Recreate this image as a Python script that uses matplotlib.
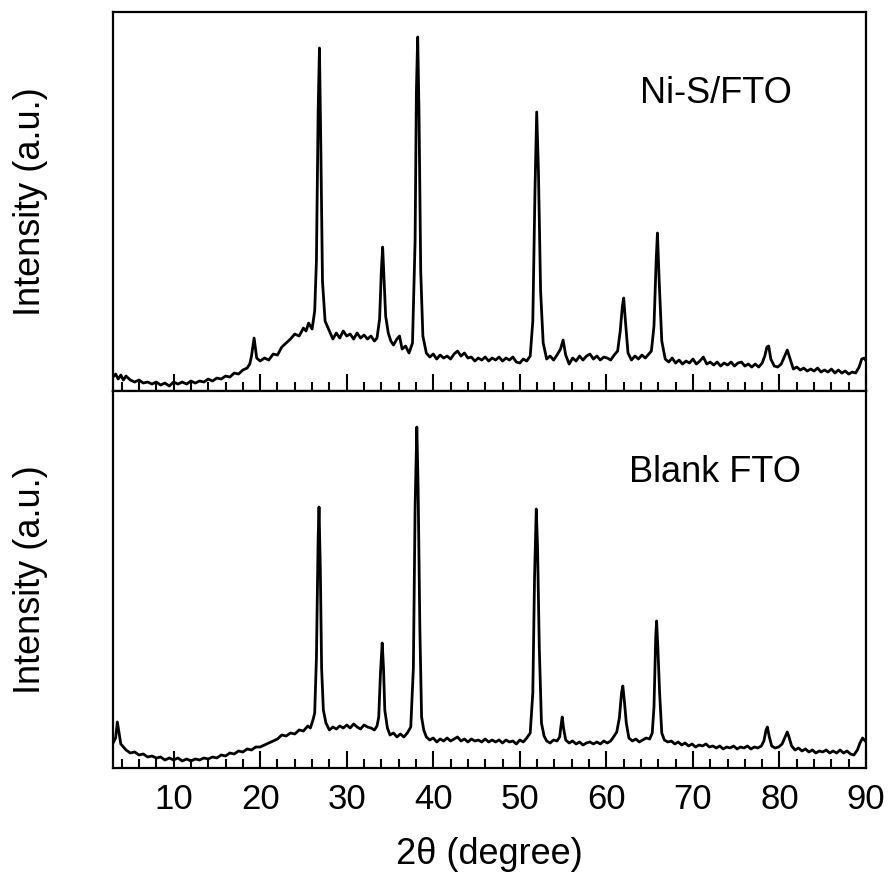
import numpy as np
import matplotlib
matplotlib.use('Agg')
import matplotlib.pyplot as plt

plt.rcParams['font.family'] = ['Liberation Sans', 'DejaVu Sans']

# (2theta, intensity), arbitrary units
nis_fto = [
    (3.0, 14), (3.3, 17), (3.6, 12), (3.9, 16), (4.2, 11), (4.5, 15), (5.0, 11), (5.5, 9), (6.0, 11), (6.5, 8),
    (7.0, 9), (7.5, 7), (8.0, 9), (8.5, 6), (9.0, 8), (9.5, 5), (10.0, 9), (10.5, 7), (11.0, 9), (11.5, 7),
    (12.0, 10), (12.5, 8), (13.0, 10), (13.5, 9), (14.0, 12), (14.5, 10), (15.0, 13), (15.5, 12), (16.0, 15), (16.5, 14),
    (17.0, 18), (17.5, 17), (18.0, 21), (18.5, 23), (18.8, 27), (19.0, 35), (19.3, 53), (19.6, 33), (20.0, 30), (20.5, 33),
    (21.0, 31), (21.5, 37), (22.0, 36), (22.5, 44), (23.0, 48), (23.5, 52), (24.0, 57), (24.5, 55), (25.0, 63), (25.3, 60),
    (25.6, 68), (26.0, 62), (26.3, 80), (26.5, 130), (26.7, 280), (26.85, 343), (27.0, 250), (27.2, 110), (27.5, 70), (28.0, 60),
    (28.4, 52), (28.8, 58), (29.2, 53), (29.6, 60), (30.0, 55), (30.4, 57), (30.8, 52), (31.2, 58), (31.6, 53), (32.0, 56),
    (32.4, 52), (32.8, 55), (33.2, 50), (33.5, 53), (33.8, 72), (34.0, 120), (34.15, 144), (34.3, 115), (34.5, 75), (34.8, 58),
    (35.1, 50), (35.4, 46), (35.8, 52), (36.1, 55), (36.4, 42), (36.8, 45), (37.2, 38), (37.6, 48), (37.9, 150), (38.05, 300),
    (38.2, 354), (38.35, 280), (38.55, 120), (38.8, 55), (39.2, 38), (39.6, 34), (40.0, 37), (40.4, 32), (40.8, 36), (41.2, 33),
    (41.6, 35), (42.0, 32), (42.4, 37), (42.8, 40), (43.2, 35), (43.6, 38), (44.0, 33), (44.4, 34), (44.8, 30), (45.2, 33),
    (45.6, 31), (46.0, 34), (46.4, 30), (46.8, 33), (47.2, 31), (47.6, 34), (48.0, 30), (48.4, 33), (48.8, 31), (49.2, 34),
    (49.6, 29), (50.0, 28), (50.4, 32), (50.8, 30), (51.2, 35), (51.5, 70), (51.75, 200), (51.95, 279), (52.15, 220), (52.4, 100),
    (52.7, 48), (53.1, 32), (53.5, 35), (53.9, 31), (54.3, 36), (54.7, 42), (55.0, 51), (55.3, 36), (55.7, 27), (56.1, 33),
    (56.5, 30), (56.9, 35), (57.3, 31), (57.7, 35), (58.1, 37), (58.5, 32), (58.9, 35), (59.3, 31), (59.7, 34), (60.1, 33),
    (60.5, 31), (60.9, 36), (61.3, 40), (61.6, 60), (61.85, 85), (62.0, 93), (62.2, 70), (62.5, 38), (62.9, 31), (63.3, 35),
    (63.7, 32), (64.1, 36), (64.5, 33), (64.9, 37), (65.2, 40), (65.5, 65), (65.75, 130), (65.9, 158), (66.1, 110), (66.4, 50),
    (66.8, 32), (67.2, 29), (67.6, 33), (68.0, 28), (68.4, 31), (68.8, 27), (69.2, 30), (69.6, 28), (70.0, 32), (70.4, 27),
    (70.8, 30), (71.2, 34), (71.6, 27), (72.0, 29), (72.4, 26), (72.8, 29), (73.2, 25), (73.6, 28), (74.0, 26), (74.4, 29),
    (74.8, 25), (75.2, 28), (75.6, 29), (76.0, 25), (76.4, 27), (76.8, 24), (77.2, 27), (77.6, 24), (78.0, 28), (78.3, 35),
    (78.55, 44), (78.75, 45), (79.0, 32), (79.4, 25), (79.8, 24), (80.2, 27), (80.6, 35), (80.9, 41), (81.2, 33), (81.6, 22),
    (82.0, 24), (82.4, 21), (82.8, 23), (83.2, 20), (83.6, 22), (84.0, 20), (84.4, 23), (84.8, 19), (85.2, 21), (85.6, 19),
    (86.0, 22), (86.4, 18), (86.8, 21), (87.2, 18), (87.6, 20), (88.0, 17), (88.4, 19), (88.8, 18), (89.2, 24), (89.5, 32),
    (89.8, 33), (90.0, 30),
]

blank_fto = [
    (3.0, 25), (3.3, 30), (3.5, 46), (3.7, 35), (3.9, 24), (4.2, 21), (4.5, 18), (5.0, 15), (5.5, 16), (6.0, 13),
    (6.5, 14), (7.0, 11), (7.5, 12), (8.0, 10), (8.5, 11), (9.0, 8), (9.5, 10), (10.0, 8), (10.5, 10), (11.0, 7),
    (11.5, 9), (12.0, 7), (12.5, 9), (13.0, 8), (13.5, 10), (14.0, 9), (14.5, 11), (15.0, 10), (15.5, 13), (16.0, 12),
    (16.5, 15), (17.0, 14), (17.5, 17), (18.0, 16), (18.5, 19), (19.0, 18), (19.5, 21), (20.0, 21), (20.5, 23), (21.0, 25),
    (21.5, 27), (22.0, 29), (22.5, 33), (23.0, 32), (23.5, 35), (24.0, 34), (24.5, 38), (25.0, 37), (25.5, 42), (25.8, 40),
    (26.1, 48), (26.3, 55), (26.5, 110), (26.7, 230), (26.8, 261), (26.95, 200), (27.1, 100), (27.3, 58), (27.6, 45), (28.0, 38),
    (28.4, 41), (28.8, 39), (29.2, 42), (29.6, 40), (30.0, 43), (30.4, 40), (30.8, 44), (31.2, 41), (31.6, 39), (32.0, 43),
    (32.4, 41), (32.8, 40), (33.2, 38), (33.5, 42), (33.7, 51), (33.9, 95), (34.1, 125), (34.25, 100), (34.4, 58), (34.7, 40),
    (35.0, 33), (35.4, 35), (35.8, 31), (36.2, 34), (36.6, 31), (37.0, 35), (37.4, 41), (37.7, 100), (37.9, 260), (38.1, 341),
    (38.25, 280), (38.45, 140), (38.65, 51), (38.9, 38), (39.2, 31), (39.6, 28), (40.0, 30), (40.4, 26), (40.8, 29), (41.2, 27),
    (41.6, 30), (42.0, 27), (42.4, 29), (42.8, 31), (43.2, 27), (43.6, 29), (44.0, 26), (44.4, 29), (44.8, 27), (45.2, 28),
    (45.6, 26), (46.0, 29), (46.4, 26), (46.8, 28), (47.2, 26), (47.6, 28), (48.0, 25), (48.4, 28), (48.8, 26), (49.2, 27),
    (49.6, 24), (50.0, 28), (50.4, 26), (50.8, 30), (51.2, 35), (51.5, 75), (51.7, 190), (51.9, 259), (52.05, 220), (52.25, 120),
    (52.5, 45), (52.8, 32), (53.1, 27), (53.5, 25), (53.9, 28), (54.3, 27), (54.6, 31), (54.8, 45), (54.9, 51), (55.05, 40),
    (55.3, 28), (55.7, 25), (56.1, 27), (56.5, 24), (56.9, 26), (57.3, 23), (57.7, 25), (58.1, 26), (58.5, 24), (58.9, 26),
    (59.3, 24), (59.7, 27), (60.1, 25), (60.5, 27), (60.9, 32), (61.2, 36), (61.5, 50), (61.75, 75), (61.9, 82), (62.1, 65),
    (62.3, 45), (62.6, 30), (63.0, 27), (63.4, 29), (63.8, 26), (64.2, 28), (64.6, 30), (65.0, 29), (65.3, 35), (65.5, 61),
    (65.7, 130), (65.8, 147), (65.95, 120), (66.15, 75), (66.4, 35), (66.7, 28), (67.1, 26), (67.5, 27), (67.9, 24), (68.3, 26),
    (68.7, 23), (69.1, 25), (69.5, 22), (69.9, 24), (70.3, 21), (70.7, 23), (71.1, 22), (71.5, 24), (71.9, 21), (72.3, 22),
    (72.7, 20), (73.1, 22), (73.5, 19), (73.9, 21), (74.3, 20), (74.7, 22), (75.1, 19), (75.5, 21), (75.9, 20), (76.3, 22),
    (76.7, 19), (77.1, 21), (77.5, 20), (77.9, 22), (78.2, 27), (78.45, 38), (78.6, 41), (78.8, 32), (79.1, 22), (79.5, 20),
    (79.9, 21), (80.3, 24), (80.6, 30), (80.9, 36), (81.1, 31), (81.4, 22), (81.8, 18), (82.2, 20), (82.6, 17), (83.0, 19),
    (83.4, 16), (83.8, 18), (84.2, 15), (84.6, 17), (85.0, 16), (85.4, 18), (85.8, 15), (86.2, 17), (86.6, 15), (87.0, 18),
    (87.4, 15), (87.8, 17), (88.2, 14), (88.6, 13), (89.0, 18), (89.3, 25), (89.6, 30), (89.8, 28), (90.0, 26),
]

panels = [(nis_fto, 'Ni-S/FTO', 379), (blank_fto, 'Blank FTO', 377)]

fig = plt.figure(figsize=(8.92, 8.75), dpi=100)
ax_top = fig.add_axes([0.1267, 0.5531, 0.8442, 0.4332])
ax_bot = fig.add_axes([0.1267, 0.1223, 0.8442, 0.4308], sharex=ax_top)

for ax, (data, name, ymax) in zip([ax_top, ax_bot], panels):
    xy = np.array(data)
    ax.plot(xy[:, 0], xy[:, 1], color='black', lw=2.0)
    ax.set_xlim(3, 90)
    ax.set_ylim(0, ymax)
    ax.set_yticks([])
    ax.set_xticks(np.arange(10, 91, 10))
    ax.set_xticks(np.arange(4, 91, 2), minor=True)
    ax.tick_params(axis='x', which='major', direction='in', length=12, width=1.5,
                   labelsize=25, pad=11, top=False)
    ax.tick_params(axis='x', which='minor', direction='in', length=6.5, width=1.5, top=False)
    for s in ax.spines.values():
        s.set_linewidth(1.6)
    ax.set_ylabel('Intensity (a.u.)', fontsize=26)
    ax.yaxis.set_label_coords(-0.086, 0.5)
    ax.text(0.80, 0.785, name, transform=ax.transAxes, fontsize=26,
            ha='center', va='center')

ax_top.tick_params(axis='x', labelbottom=False)
ax_bot.set_xlabel('2θ (degree)', fontsize=26, labelpad=15)

fig.savefig('out.png', dpi=100)
